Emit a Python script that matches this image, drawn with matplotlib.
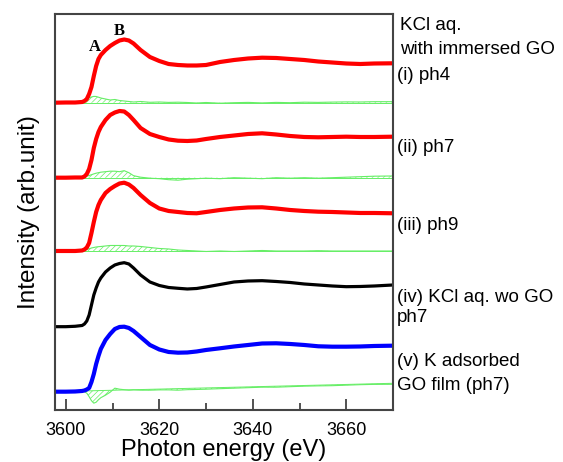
import matplotlib.pyplot as plt
import numpy as np

# photon energy grid (eV)
energy = [3597.7, 3600, 3602, 3603.5, 3604, 3604.5, 3605, 3605.5, 3606, 3606.5,
          3607, 3607.5, 3608.5, 3609.5, 3610.5, 3611.5, 3612.5, 3613.5, 3614.5, 3616,
          3618, 3620, 3622, 3624, 3626, 3628, 3630, 3633, 3636, 3639,
          3642, 3645, 3648, 3651, 3654, 3657, 3660, 3663, 3666, 3670]

# spectra, intensity above pre-edge (arb. unit)
ph4 = [0, 0.2, 0.2, 0.7, 1.7, 3.7, 8.7, 15.7, 26.7, 36.7,
       43.7, 47.7, 52.7, 56.7, 59.7, 62.2, 63.2, 62.2, 59.2, 52.7,
       45.7, 41.7, 38.7, 37.7, 37.2, 37.2, 37.7, 40.7, 42.7, 44.2,
       45, 44.7, 43.7, 42.7, 41.2, 40.2, 39.2, 38.7, 39.2, 39.4]
ph7 = [0, 0, 0.2, 0.2, 1.2, 3.7, 8.7, 17.7, 29.7, 38.7,
       45.7, 50.7, 57.7, 62.7, 65.2, 66.7, 66.2, 62.7, 57.7, 49.7,
       43.7, 40.7, 38.2, 37, 36.7, 37.2, 38.7, 40.7, 42.2, 43.7,
       44.4, 43.2, 41.7, 40.7, 40.4, 40.7, 41, 40.7, 40.7, 41]
ph9 = [0, 0, 0, 0.5, 1.5, 3.5, 8, 18, 29, 39,
       46, 51, 58, 62, 65, 67.5, 68.3, 66.5, 63, 56,
       48, 42.5, 40, 39, 38, 37.7, 39, 41, 42.5, 43.5,
       43.7, 42.5, 41, 40, 39.3, 39, 38.5, 38, 38, 37.7]
wo_go = [0, 0, 0.4, 1.2, 2.7, 5.7, 11.7, 21.7, 31.7, 38.7,
         44.7, 48.7, 54.7, 58.7, 61.7, 63.2, 64, 62.7, 58.7, 51.7,
         44.7, 41.2, 39.2, 38.4, 37.7, 38.2, 39.7, 42.2, 44.7, 45.7,
         46, 45.2, 44.2, 42.7, 41.7, 40.7, 40, 40.2, 40.7, 41.7]
go_film = [0, 0, 0.2, 0.7, 1.2, 2.2, 3.7, 9.7, 17.7, 27.7,
           35.7, 42.7, 51.7, 57.7, 62.7, 64.7, 65, 63.7, 60.7, 54.7,
           46.7, 42.2, 39.7, 39, 39.2, 40.2, 41.7, 43.4, 45.2, 46.7,
           48.2, 48.4, 47.7, 46.7, 45.4, 45, 45, 45.2, 45.7, 46]

# difference curves (green)
diff_ph4 = [0, 0, 0.2, 0.7, 2, 3.7, 5, 5.7, 6.3, 6.2,
            5.5, 4.7, 3.7, 2.7, 3.2, 2.2, 1.7, 1.2, 0.7, 1.2,
            0.4, 0.7, 0.3, 0.5, 0.2, -0.3, 0.2, -0.5, 0, 0.3,
            -0.2, 0.3, 0, 0.5, 0.3, 0.6, 0.8, 0.7, 1, 1]
diff_ph7 = [0, 0, 0, 0.3, 0.8, 1.5, 2.2, 3, 3.8, 4.5,
            5, 5.5, 6, 6.5, 6.5, 6, 7, 5, 2, 0.5,
            -0.5, -1, -2, -2.5, -1.5, -1, -0.5, -1, 0, -0.5,
            -1, 0, -0.5, 0, -0.5, 0, 0.5, 1, 1.5, 1.7]
diff_ph9 = [0, 0, 0, 0.5, 1, 1.5, 2.2, 3, 3.5, 4,
            4.3, 4.5, 5, 5.5, 5.5, 5.5, 5.5, 5, 5, 4.5,
            3.5, 2.5, 2, 1, 0.5, 0, -0.5, 0, -0.5, 0,
            0.5, 0, 0, 0, 0.3, 0, 0, 0, 0, 0]
diff_film = [0, 0.2, 0.4, 0.5, 0, -1.5, -5, -9, -11.5, -10.5,
             -8, -6, -3.5, -0.5, 3.5, 2.5, 2, 1.5, 1.8, 1.5,
             1.5, 1.8, 1.8, 1.5, 2, 2.2, 2.5, 3, 3.5, 4,
             4.5, 4.5, 5, 5.5, 5.8, 6, 6.5, 7, 7.3, 7.4]
diff_ref_film = [0, 8.4]  # sloped reference line, start/end

offsets = [307.3, 232.3, 159.0, 83.3, 18.3]

fig = plt.figure(figsize=(5.63, 4.62), dpi=100)
ax = fig.add_axes([0.0977, 0.1126, 0.6004, 0.8571])

green = '#66ee66'
plt.rcParams['hatch.linewidth'] = 0.5

e = np.array(energy)

def diff_plot(d, off, ref=None):
    if ref is None:
        base = np.full(len(e), off)
    else:
        base = off + np.interp(e, [e[0], e[-1]], ref)
    curve = off + np.array(d)
    ax.fill_between(e, base, curve, facecolor='none', edgecolor=green,
                    hatch='//////', linewidth=0)
    ax.plot(e, base, color=green, lw=0.7)
    ax.plot(e, curve, color=green, lw=0.8)

diff_plot(diff_ph4, offsets[0])
diff_plot(diff_ph7, offsets[1])
diff_plot(diff_ph9, offsets[2])
diff_plot(diff_film, offsets[4], diff_ref_film)

style = dict(solid_joinstyle='round', solid_capstyle='round')
ax.plot(e, offsets[0] + np.array(ph4), color='#ff0000', lw=3, **style)
ax.plot(e, offsets[1] + np.array(ph7), color='#ff0000', lw=3, **style)
ax.plot(e, offsets[2] + np.array(ph9), color='#ff0000', lw=3, **style)
ax.plot(e, offsets[3] + np.array(wo_go), color='black', lw=2.3, **style)
ax.plot(e, offsets[4] + np.array(go_film), color='#0000ff', lw=3, **style)

ax.text(3606.3, 363, 'A', family='Liberation Serif', fontweight='bold',
        fontsize=12, ha='center', va='center')
ax.text(3611.4, 379, 'B', family='Liberation Serif', fontweight='bold',
        fontsize=12, ha='center', va='center')

ax.set_xlim(3597.7, 3670)
ax.set_ylim(0, 396)
ax.set_xticks([3600, 3620, 3640, 3660])
ax.set_xticks([3610, 3630, 3650], minor=True)
ax.set_yticks([])
ax.tick_params(axis='x', which='major', direction='in', length=8, width=1.2,
               labelsize=13, pad=8.5, colors='#333333', labelcolor='black')
ax.tick_params(axis='x', which='minor', direction='in', length=5, width=1.2,
               colors='#333333')
for s in ax.spines.values():
    s.set_color('#444444')
    s.set_linewidth(1.5)

ax.set_xlabel('Photon energy (eV)', fontsize=17, family='Liberation Sans',
              labelpad=0)
ax.set_ylabel('Intensity (arb.unit)', fontsize=17.5, family='Liberation Sans',
              labelpad=11)
for lab in ax.get_xticklabels():
    lab.set_family('Liberation Sans')

# labels on the right side
labels = [(400, 26, 'KCl aq.'), (400, 49, 'with immersed GO'), (397, 75, '(i) ph4'),
          (397, 148, '(ii) ph7'), (397, 225, '(iii) ph9'),
          (397, 297, '(iv) KCl aq. wo GO'), (397, 318, 'ph7'),
          (397, 361, '(v) K adsorbed'), (397, 386, 'GO film (ph7)')]
for x, y, t in labels:
    fig.text(x / 563, 1 - y / 462, t, fontsize=13.5, family='Liberation Sans',
             ha='left', va='center')

plt.savefig('out.png', dpi=100)
